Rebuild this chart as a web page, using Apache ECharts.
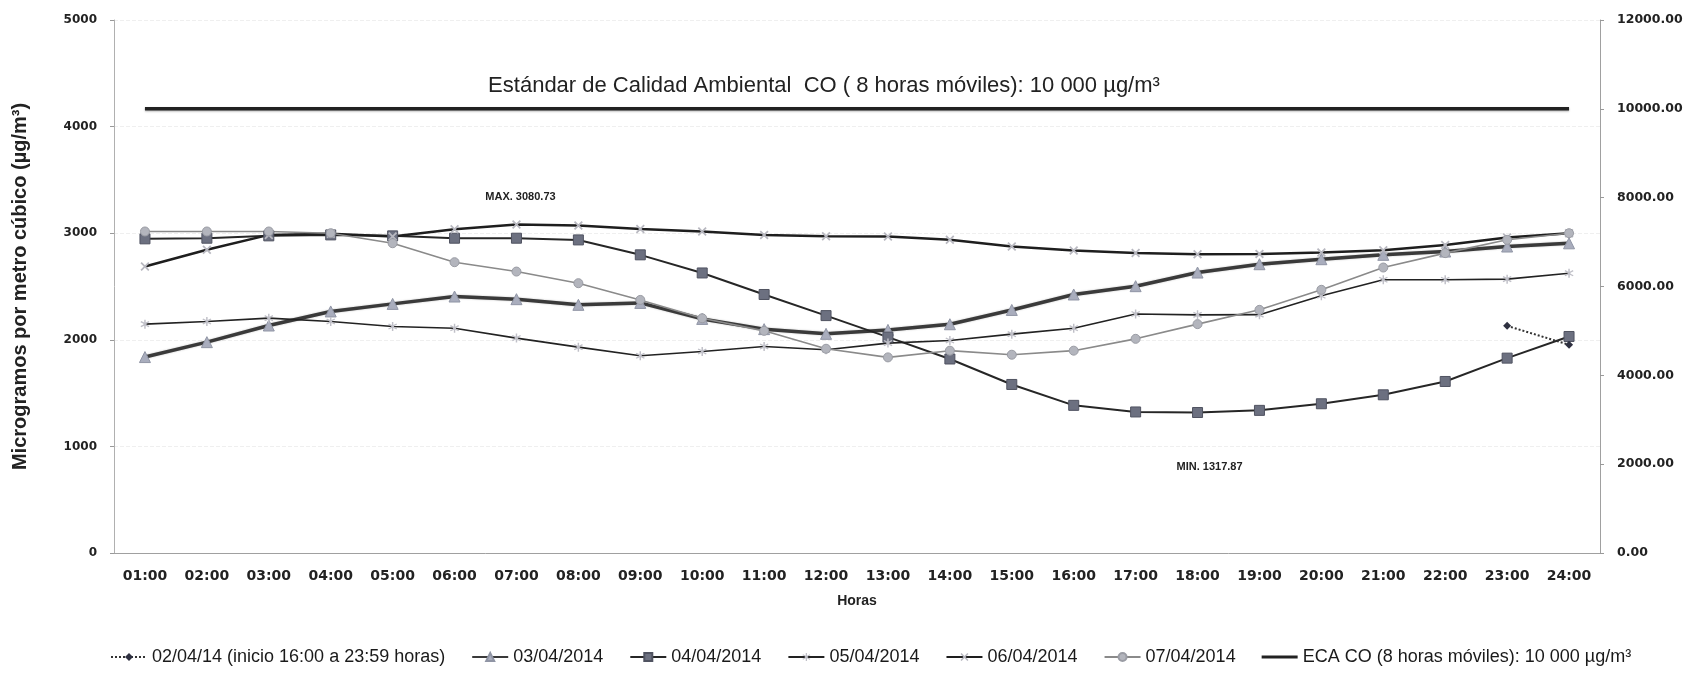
<!DOCTYPE html>
<html><head><meta charset="utf-8">
<script src="https://cdn.jsdelivr.net/npm/echarts@6/dist/echarts.min.js"></script>
<style>html,body{margin:0;padding:0;background:#fff}#c{width:1688px;height:676px}</style>
</head><body><div id="c"></div>
<script>
const hours = ['01:00','02:00','03:00','04:00','05:00','06:00','07:00','08:00','09:00','10:00','11:00','12:00','13:00','14:00','15:00','16:00','17:00','18:00','19:00','20:00','21:00','22:00','23:00','24:00'];
const s0204 = [null,null,null,null,null,null,null,null,null,null,null,null,null,null,null,null,null,null,null,null,null,null,2131,1953];
const s0304 = [1838,1978,2134,2266,2337,2406,2381,2328,2346,2196,2100,2056,2093,2146,2280,2425,2503,2631,2709,2756,2797,2828,2875,2905];
const s0404 = [2947,2953,2975,2984,2975,2953,2953,2937,2797,2627,2425,2227,2025,1820,1581,1385,1323,1317.87,1338,1400,1484,1609,1828,2031];
const s0504 = [2147,2172,2203,2172,2125,2109,2016,1931,1850,1890,1937,1907,1969,1994,2053,2109,2242,2234,2236,2413,2563,2563,2569,2625];
const s0604 = [2688,2844,2984,2994,2969,3037,3080.73,3072,3040,3016,2984,2972,2969,2938,2876,2838,2814,2803,2806,2820,2840,2890,2960,3000];
const s0704 = [3016,3016,3016,3000,2906,2728,2640,2531,2374,2202,2084,1916,1835,1898,1860,1898,2009,2147,2281,2469,2678,2813,2938,3000];
const ecaCO = [10000,10000,10000,10000,10000,10000,10000,10000,10000,10000,10000,10000,10000,10000,10000,10000,10000,10000,10000,10000,10000,10000,10000,10000];
const names = ['02/04/14 (inicio 16:00 a 23:59 horas)','03/04/2014','04/04/2014','05/04/2014','06/04/2014','07/04/2014','ECA CO (8 horas móviles): 10 000 µg/m³'];
const titleText = 'Estándar de Calidad Ambiental  CO ( 8 horas móviles): 10 000 µg/m³';
const maxLabel = 'MAX. 3080.73';
const minLabel = 'MIN. 1317.87';

const sans = "'Liberation Sans', Arial, sans-serif";
const xMark = 'path://M0,1.4L1.4,0L5,3.6L8.6,0L10,1.4L6.4,5L10,8.6L8.6,10L5,6.4L1.4,10L0,8.6L3.6,5Z';
const star = 'path://M4.3,0H5.7V3.3L8.6,1.6L9.3,2.8L6.4,4.5L6.4,5.5L9.3,7.2L8.6,8.4L5.7,6.7V10H4.3V6.7L1.4,8.4L0.7,7.2L3.6,5.5V4.5L0.7,2.8L1.4,1.6L4.3,3.3Z';
const barIcon = 'path://M0,0H36V3.2H0Z';

const chart = echarts.init(document.getElementById('c'));
chart.setOption({
  animation: false,
  backgroundColor: '#fff',
  graphic: [{
    type: 'text',
    style: { text: titleText, x: 824, y: 86, textAlign: 'center', textVerticalAlign: 'middle', font: "22px " + sans, fill: '#222' }
  }],
  legend: {
    left: 105, top: 643, width: 1580, itemGap: 26, itemWidth: 36, itemHeight: 10,
    textStyle: { fontFamily: sans, fontSize: 18, color: '#1a1a1a' },
    data: names.slice(0, 6).concat([{ name: names[6], icon: barIcon }])
  },
  grid: { left: 114, right: 88, top: 20, bottom: 123 },
  xAxis: {
    type: 'category', data: hours, boundaryGap: true,
    name: 'Horas', nameLocation: 'middle', nameGap: 41,
    nameTextStyle: { fontFamily: sans, fontWeight: 'bold', fontSize: 14, color: '#222' },
    axisLine: { lineStyle: { color: '#a0a0a0', width: 1 } },
    axisTick: { show: false },
    axisLabel: { fontFamily: "'DejaVu Sans', sans-serif", fontWeight: 'bold', fontSize: 14, color: '#222', margin: 16 }
  },
  yAxis: [{
    type: 'value', min: 0, max: 5000, interval: 1000,
    name: 'Microgramos por metro cúbico (µg/m³)', nameLocation: 'middle', nameGap: 84, nameRotate: 90,
    nameTextStyle: { fontFamily: sans, fontWeight: 'bold', fontSize: 20, color: '#222' },
    axisLine: { show: true, lineStyle: { color: '#b0b0b0' } },
    axisTick: { show: true, length: 4, lineStyle: { color: '#999' } },
    axisLabel: { fontFamily: "'DejaVu Sans', sans-serif", fontWeight: 'bold', fontSize: 12, color: '#222', margin: 17,
      formatter: v => String(v) },
    splitLine: { show: true, lineStyle: { color: '#efefef', type: 'dashed' } }
  }, {
    type: 'value', min: 0, max: 12000, interval: 2000, position: 'right',
    axisLine: { show: true, lineStyle: { color: '#a0a0a0' } },
    axisTick: { show: true, length: 4, lineStyle: { color: '#999' } },
    axisLabel: { fontFamily: "'DejaVu Sans', sans-serif", fontWeight: 'bold', fontSize: 12.5, color: '#222', margin: 17,
      formatter: v => v.toFixed(2) },
    splitLine: { show: false }
  }],
  series: [{
    name: names[0], type: 'line', data: s0204, symbol: 'diamond', symbolSize: 8,
    lineStyle: { color: '#333', width: 2, type: 'dotted' },
    itemStyle: { color: '#2e3040' }, z: 9
  }, {
    name: names[1], type: 'line', data: s0304, symbol: 'triangle', symbolSize: 11,
    lineStyle: { color: '#3a3a3a', width: 3.5, shadowColor: 'rgba(0,0,0,0.25)', shadowBlur: 2 },
    itemStyle: { color: '#a9adbd', borderColor: '#9095a5', borderWidth: 1 }
  }, {
    name: names[2], type: 'line', data: s0404, symbol: 'rect', symbolSize: 10,
    lineStyle: { color: '#262626', width: 2 },
    itemStyle: { color: '#6c7080', borderColor: '#505361', borderWidth: 1 },
    markPoint: {
      symbol: 'circle', symbolSize: 0,
      data: [{ coord: ['18:00', 1317.87], value: minLabel }],
      label: { show: true, position: 'bottom', distance: 49, formatter: minLabel,
        fontFamily: sans, fontWeight: 'bold', fontSize: 11, color: '#222', offset: [12, 0] }
    }
  }, {
    name: names[3], type: 'line', data: s0504, symbol: star, symbolSize: 9,
    lineStyle: { color: '#222', width: 1.6 },
    itemStyle: { color: '#c0c0c8' }
  }, {
    name: names[4], type: 'line', data: s0604, symbol: xMark, symbolSize: 9,
    lineStyle: { color: '#1e1e1e', width: 2.5 },
    itemStyle: { color: '#b8b8c0' },
    markPoint: {
      symbol: 'circle', symbolSize: 0,
      data: [{ coord: ['07:00', 3080.73], value: maxLabel }],
      label: { show: true, position: 'top', distance: 22, formatter: maxLabel,
        fontFamily: sans, fontWeight: 'bold', fontSize: 11, color: '#222', offset: [4, 0] }
    }
  }, {
    name: names[5], type: 'line', data: s0704, symbol: 'circle', symbolSize: 9,
    lineStyle: { color: '#8a8a8a', width: 1.6 },
    itemStyle: { color: '#b3b5bd', borderColor: '#9a9ca4', borderWidth: 1 }
  }, {
    name: names[6], type: 'line', data: ecaCO, yAxisIndex: 1, symbol: 'none',
    lineStyle: { color: '#222', width: 3.5, shadowColor: 'rgba(0,0,0,0.3)', shadowBlur: 2, shadowOffsetY: 1 },
    itemStyle: { color: '#222' }
  }]
});
</script></body></html>
